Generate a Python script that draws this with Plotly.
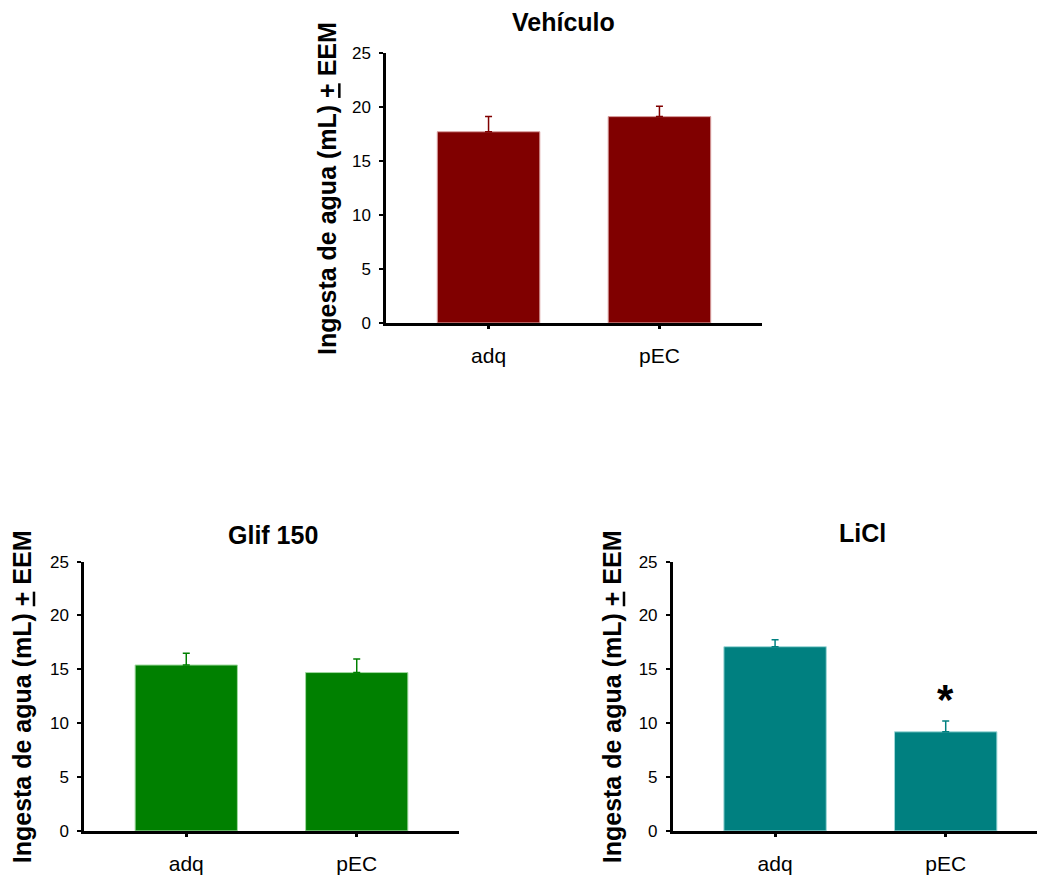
import plotly.graph_objects as go

# ---------------- data ----------------
categories = ["adq", "pEC"]
panel_titles = ["Vehículo", "Glif 150", "LiCl"]
vehiculo_mean = [17.7, 19.1]
vehiculo_sem = [1.4, 0.95]
glif_mean = [15.4, 14.7]
glif_sem = [1.1, 1.25]
licl_mean = [17.1, 9.2]
licl_sem = [0.65, 1.0]
y_tick_vals = [0, 5, 10, 15, 20, 25]
signif_category = "pEC"
signif_y = 12.2
y_title = "Ingesta de agua (mL) <u>+</u> EEM"

# ---------------- style ----------------
W, H = 1037, 876
FONT = "Arial, Liberation Sans, sans-serif"
colors = ["#800000", "#008000", "#008080"]
edge = ["#d9a0a0", "#a0d9a0", "#a0d9d9"]


def px_x(p):
    return p / W


def px_y(p):
    # compensate for vertical placement observed in rendering
    q = (p - 9.1) / 0.9783
    return (H - q) / H


panels = [
    # (means, sems, xdomain px, ydomain px (top, bottom), x range, title pos, ytitle x)
    (vehiculo_mean, vehiculo_sem, (386, 762), (53, 323), [-0.6, 1.6], (563, 22), 327),
    (glif_mean, glif_sem, (84, 459), (561.7, 831), [-0.6, 1.6], (273, 535), 22),
    (licl_mean, licl_sem, (672.7, 1037), (561.7, 831), [-0.6, 1.535], (862, 533), 612),
]

fig = go.Figure()
annotations = []
layout = {}
for i, (means, sems, xd, yd, xr, tpos, ytx) in enumerate(panels):
    n = "" if i == 0 else str(i + 1)
    fig.add_trace(go.Bar(
        x=categories, y=means,
        width=0.6,
        marker=dict(color=colors[i], line=dict(color=edge[i], width=1)),
        error_y=dict(type="data", symmetric=False, array=sems,
                     arrayminus=[0] * len(sems),
                     color=colors[i], thickness=1.5, width=3.5),
        xaxis="x" + n, yaxis="y" + n,
        showlegend=False,
    ))
    layout["xaxis" + n] = dict(
        domain=[px_x(xd[0]), min(1.0, px_x(xd[1]))],
        anchor="y" + n,
        range=xr,
        type="category",
        showline=True, linecolor="black", linewidth=2.5,
        ticks="outside", ticklen=3, tickwidth=2.5, tickcolor="black",
        tickfont=dict(family=FONT, size=21, color="black"),
        ticklabelstandoff=9,
        showgrid=False, zeroline=False, fixedrange=True,
    )
    layout["yaxis" + n] = dict(
        domain=[px_y(yd[1]), px_y(yd[0])],
        anchor="x" + n,
        range=[0, 25],
        tickvals=y_tick_vals,
        showline=True, linecolor="black", linewidth=2.5,
        ticks="outside", ticklen=4, tickwidth=1.5, tickcolor="black",
        tickfont=dict(family=FONT, size=17, color="black"),
        ticklabelstandoff=5,
        showgrid=False, zeroline=False, fixedrange=True,
    )
    annotations.append(dict(
        text="<b>" + panel_titles[i] + "</b>", xref="paper", yref="paper",
        x=px_x(tpos[0]), y=px_y(tpos[1]), xanchor="center", yanchor="middle",
        showarrow=False, font=dict(family=FONT, size=25, color="black"),
    ))
    annotations.append(dict(
        text="<b>" + y_title + "</b>", xref="paper", yref="paper",
        x=px_x(ytx), y=px_y((yd[0] + yd[1]) / 2 + 1),
        xanchor="center", yanchor="middle", textangle=-90,
        showarrow=False, font=dict(family=FONT, size=25, color="black"),
    ))

annotations.append(dict(
    text="<b>*</b>", xref="x3", yref="y3", x=signif_category, y=signif_y,
    xanchor="center", yanchor="middle", showarrow=False,
    font=dict(family=FONT, size=42, color="black"),
))

fig.update_layout(
    width=W, height=H,
    margin=dict(l=0, r=0, t=0, b=0),
    paper_bgcolor="white", plot_bgcolor="white",
    annotations=annotations,
    bargap=0.4,
    **layout,
)

fig.write_html("out.html", config={"displayModeBar": False})
